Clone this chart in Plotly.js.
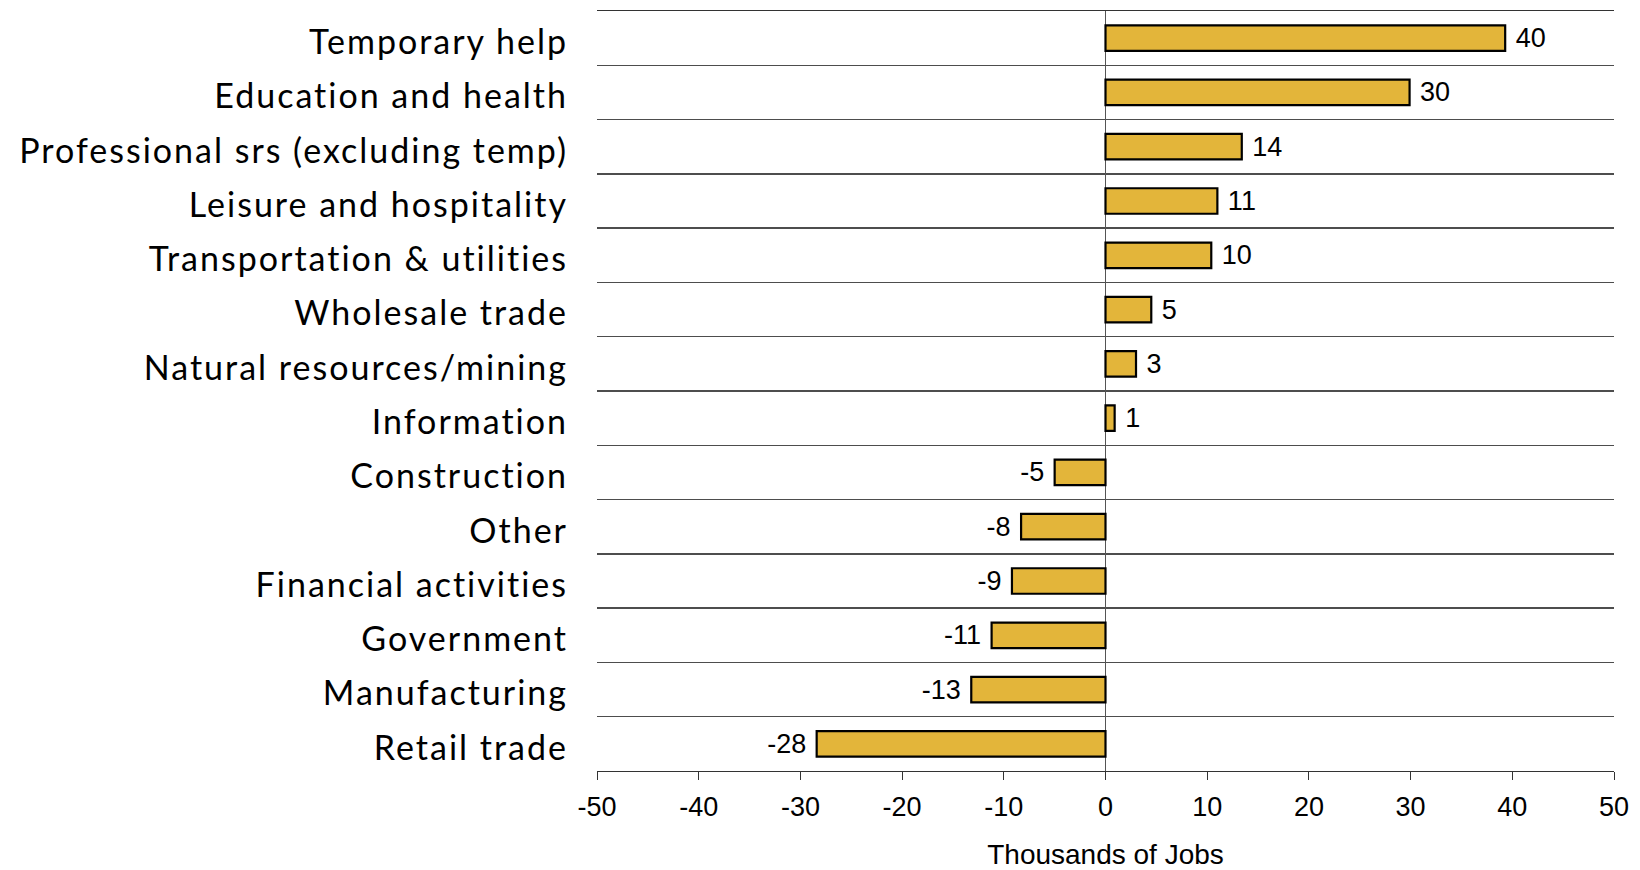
<!DOCTYPE html>
<html>
<head>
<meta charset="utf-8">
<script src="https://cdn.plot.ly/plotly-3.0.1.min.js"></script>
<style>
html,body{margin:0;padding:0;background:#fff;}
#chart{width:1640px;height:870px;}
#chart .ytick text{letter-spacing:2px;}
</style>
</head>
<body>
<div id="chart"></div>
<script>
// Categories, top to bottom
const categories = [
  "Temporary help",
  "Education and health",
  "Professional srs (excluding temp)",
  "Leisure and hospitality",
  "Transportation & utilities",
  "Wholesale trade",
  "Natural resources/mining",
  "Information",
  "Construction",
  "Other",
  "Financial activities",
  "Government",
  "Manufacturing",
  "Retail trade"
];
// Bar lengths (thousands of jobs)
const values = [39.3, 29.9, 13.4, 11.0, 10.4, 4.5, 3.0, 0.9, -5.0, -8.3, -9.2, -11.2, -13.2, -28.4];
// Value labels as printed on the chart
const valueLabels = ["40", "30", "14", "11", "10", "5", "3", "1", "-5", "-8", "-9", "-11", "-13", "-28"];
const xTickVals = [-50, -40, -30, -20, -10, 0, 10, 20, 30, 40, 50];

const NB = "\u00a0";
const padded = valueLabels.map((t, i) => values[i] >= 0 ? NB + t : t + NB);

const trace = {
  type: "bar",
  orientation: "h",
  y: categories,
  x: values,
  width: 0.47,
  marker: { color: "#E3B53A", line: { color: "#000000", width: 2.2 } },
  text: padded,
  textposition: "outside",
  constraintext: "none",
  cliponaxis: false,
  textfont: { family: "Liberation Sans, Arial, sans-serif", size: 27, color: "#000" },
  hoverinfo: "none"
};

const layout = {
  width: 1640,
  height: 870,
  margin: { l: 597, r: 26, t: 11, b: 99 },
  paper_bgcolor: "#ffffff",
  plot_bgcolor: "#ffffff",
  showlegend: false,
  xaxis: {
    range: [-50, 50],
    tickvals: xTickVals,
    ticktext: xTickVals.map(String),
    ticks: "outside",
    ticklen: 8,
    tickwidth: 1,
    tickcolor: "#333333",
    showline: true,
    linecolor: "#333333",
    linewidth: 1.3,
    mirror: true,
    showgrid: false,
    zeroline: true,
    zerolinecolor: "#555555",
    zerolinewidth: 1,
    ticklabelstandoff: 3,
    tickfont: { family: "Liberation Sans, Arial, sans-serif", size: 27, color: "#000" },
    title: {
      text: "Thousands of Jobs",
      font: { family: "Liberation Sans, Arial, sans-serif", size: 28, color: "#000" },
      standoff: 26
    },
    fixedrange: true
  },
  yaxis: {
    type: "category",
    categoryorder: "array",
    categoryarray: categories,
    autorange: "reversed",
    tickson: "boundaries",
    ticks: "",
    showgrid: true,
    gridcolor: "#4d4d4d",
    gridwidth: 1.3,
    showline: false,
    zeroline: false,
    ticklabelstandoff: 28,
    ticklabelshift: -4,
    tickfont: { family: "Lato, Noto Sans, sans-serif", size: 34, color: "#000" },
    fixedrange: true
  }
};

Plotly.newPlot("chart", [trace], layout, { displayModeBar: false, staticPlot: true });
</script>
</body>
</html>
